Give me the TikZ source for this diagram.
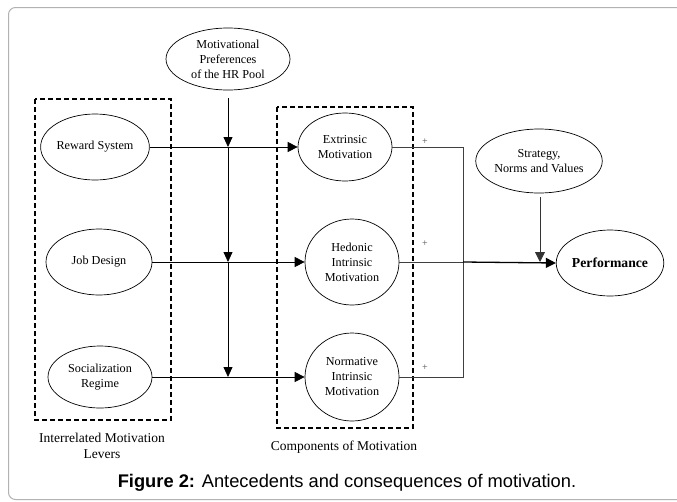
\documentclass[tikz,border=0pt]{standalone}
\usepackage{fontspec}
\setmainfont{Liberation Serif}
\newfontfamily\capfont{Liberation Sans}
\usetikzlibrary{shapes.geometric,arrows.meta}
\begin{document}
\begin{tikzpicture}[x=1pt,y=-1pt,
  ell/.style={draw,ellipse,inner sep=0pt,align=center,font=\fontsize{12.2}{15}\selectfont,line width=0.7pt},
  dbox/.style={draw,dash pattern=on 5pt off 3pt,line width=1.6pt},
  inarr/.style={line width=0.8pt,-{Triangle[length=10pt,width=10pt]}},
  downarr/.style={line width=0.8pt,-{Triangle[length=10pt,width=9pt]}},
  outln/.style={line width=0.9pt,draw=black!75},
  plus/.style={font=\fontsize{10}{10}\selectfont,inner sep=0pt,text=black!70},
  lbl/.style={align=center,font=\fontsize{13.5}{16}\selectfont}]
\useasboundingbox (0,0) rectangle (677,501);
% outer frame
\draw[black!30,line width=1pt,rounded corners=7pt] (8.5,7.5) rectangle (720,499.5);
% dashed groups
\draw[dbox] (35,99) rectangle (171,420);
\draw[dbox] (277,107) rectangle (413,428);
% ellipses
\node[ell,minimum width=124pt,minimum height=62pt] (mp) at (228,59) {Motivational\\Preferences\\of the HR Pool};
\node[ell,minimum width=94pt,minimum height=66pt] (rs) at (95,147) {Reward System};
\node[ell,minimum width=106pt,minimum height=66pt] (jd) at (99,262) {Job Design};
\node[ell,minimum width=104pt,minimum height=62pt] (sr) at (100,377) {Socialization\\Regime};
\node[ell,minimum width=94pt,minimum height=68pt] (em) at (345,147) {Extrinsic\\Motivation};
\node[ell,minimum width=94pt,minimum height=86pt] (hm) at (352,262) {Hedonic\\Intrinsic\\Motivation};
\node[ell,minimum width=94pt,minimum height=88pt] (nm) at (352,377) {Normative\\Intrinsic\\Motivation};
\node[ell,minimum width=108pt,minimum height=64pt] (sv) at (539,161) {Strategy,\\Norms and Values};
\node[ell,minimum width=94pt,minimum height=66pt,font=\fontsize{13.7}{16}\selectfont\bfseries] (pf) at (610,263) {Performance};
% junction coordinates
\coordinate (v0) at (228,98);
\coordinate (v1) at (228,147);
\coordinate (v2) at (228,262);
\coordinate (v3) at (228,377);
\coordinate (t1) at (463,147);
\coordinate (t2) at (463,262);
\coordinate (t3) at (463,377);
\coordinate (s0) at (540,197);
\coordinate (s1) at (540,262);
% moderator arrows
\draw[downarr] (v0) -- (v1);
\draw[downarr] (v1) -- (v2);
\draw[downarr] (v2) -- (v3);
% lever arrows
\draw[inarr] (rs.east) -- (em.west);
\draw[inarr] (jd.east) -- (hm.west);
\draw[inarr] (sr.east) -- (nm.west);
% outputs
\draw[outln] (em.east) -- (t1) -- (t3) -- (nm.east);
\draw[outln] (hm.east) -- (t2);
\draw[line width=1.3pt,-{Triangle[length=10pt,width=10pt]}] (t2) -- (pf.west);
\draw[line width=0.8pt,draw=black!80,-{Triangle[length=10pt,width=10pt]}] (s0) -- (s1);
% plus signs
\node[plus] (p1) at (425,142) {+};
\node[plus] (p2) at (425,244) {+};
\node[plus] (p3) at (425,368) {+};
% labels
\node[lbl] (l1) at (102,446) {Interrelated Motivation\\Levers};
\node[lbl] (l2) at (344,447) {Components of Motivation};
\node[font=\capfont\fontsize{18.3}{20}\selectfont] (cap) at (347,483) {\textbf{Figure 2:} Antecedents and consequences of motivation.};
\end{tikzpicture}
\end{document}
